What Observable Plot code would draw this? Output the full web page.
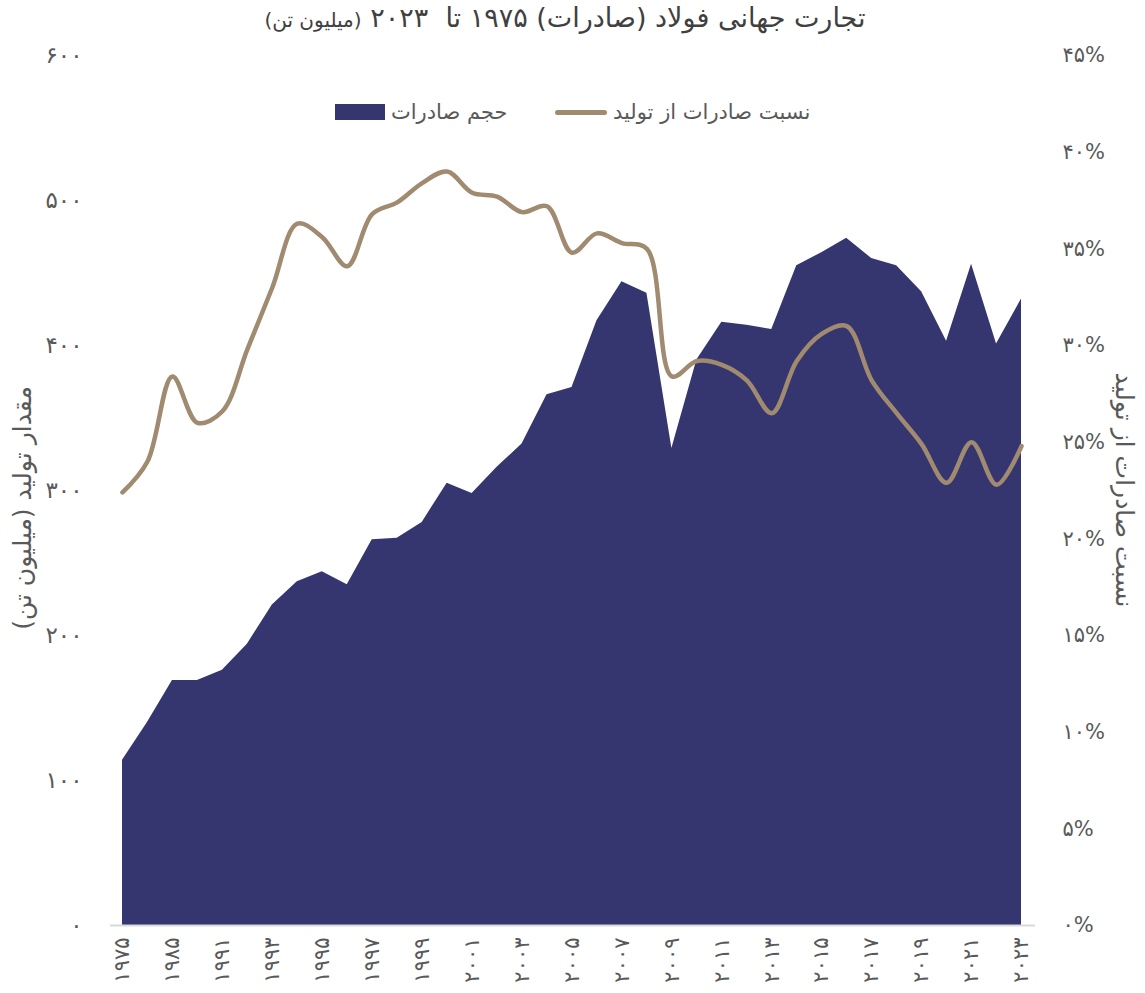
<!DOCTYPE html>
<html>
<head>
<meta charset="utf-8">
<script src="https://cdn.jsdelivr.net/npm/d3@7"></script>
<script src="https://cdn.jsdelivr.net/npm/@observablehq/plot@0.6"></script>
<style>
  html, body { margin: 0; padding: 0; background: #fff; }
  #wrap { position: relative; width: 1145px; height: 993px; font-family: "DejaVu Sans", "Noto Sans", sans-serif; color: #595959; }
  #wrap svg { position: absolute; left: 0; top: 0; }
  .abs { position: absolute; white-space: nowrap; direction: rtl; }
  #title { left: 0; width: 1130px; top: 2px; text-align: center; font-size: 27px; color: #404040; }
  #title small { font-size: 20px; }
  .vt { transform: translate(-50%, -50%) rotate(-90deg); font-size: 25px; color: #595959; }
  .vt2 { transform: translate(-50%, -50%) rotate(90deg); font-size: 25px; color: #595959; }
  .leg { font-size: 21px; color: #595959; top: 100px; display: flex; align-items: center; gap: 6px; }
  .sq { display: inline-block; width: 50px; height: 16px; background: #35356f; }
  .ln { display: inline-block; width: 52px; height: 5px; border-radius: 3px; background: #a08a70; }
</style>
</head>
<body>
<div id="wrap">
  <div id="chart"></div>
  <div id="title" class="abs">تجارت جهانی فولاد (صادرات) ۱۹۷۵ تا&nbsp; ۲۰۲۳ <small>(میلیون تن)</small></div>
  <div class="abs leg" style="left:555px;"><span>نسبت صادرات از تولید</span><span class="ln"></span></div>
  <div class="abs leg" style="left:335px;"><span>حجم صادرات</span><span class="sq"></span></div>
  <div class="abs vt" style="left:22px; top:508px;">مقدار تولید (میلیون تن)</div>
  <div class="abs vt2" style="left:1124px; top:490px;">نسبت صادرات از تولید</div>
</div>
<script>
const years = ["1975","1980","1985","1990","1991","1992","1993","1994","1995","1996","1997","1998","1999","2000","2001","2002","2003","2004","2005","2006","2007","2008","2009","2010","2011","2012","2013","2014","2015","2016","2017","2018","2019","2020","2021","2022","2023"];
const exportsVol = [114,140,169,169,176,194,221,237,244,235,266,267,278,305,298,316,332,366,371,417,444,436,329,390,416,414,411,455,464,474,460,455,437,403,456,401,432];
const exportRatio = [22.4,24.0,28.4,26.0,26.6,29.8,33.0,36.3,35.6,34.1,36.8,37.4,38.4,39.0,37.9,37.7,36.9,37.2,34.8,35.8,35.3,35.0,28.4,29.2,29.0,28.2,26.5,29.2,30.6,31.0,28.2,26.5,24.9,22.9,25.0,22.8,24.8];
const leftTicks = [0,100,200,300,400,500,600];
const rightTicks = [0,5,10,15,20,25,30,35,40,45];

const fa = n => String(n).replace(/\d/g, d => "۰۱۲۳۴۵۶۷۸۹"[d]);
const k = 600 / 45;
const data = years.map((y, i) => ({year: y, vol: exportsVol[i], ratio: exportRatio[i]}));
const labeledYears = years.filter((_, i) => i % 2 === 0);

const chart = Plot.plot({
  width: 1145,
  height: 993,
  marginTop: 55,
  marginBottom: 68,
  marginLeft: 122,
  marginRight: 124,
  x: {type: "point", domain: years, padding: 0},
  y: {domain: [0, 600]},
  style: {fontFamily: '"DejaVu Sans", "Noto Sans", sans-serif', fontSize: "22px", color: "#595959", background: "transparent"},
  marks: [
    Plot.areaY(data, {x: "year", y: "vol", fill: "#35356f", curve: "linear"}),
    Plot.ruleY([0], {stroke: "#d9d9d9", strokeWidth: 2, insetLeft: -12, insetRight: -14}),
    Plot.lineY(data, {x: "year", y: d => d.ratio * k, stroke: "#a08a70", strokeWidth: 4.5, curve: "catmull-rom", strokeLinecap: "round"}),
    Plot.axisY({anchor: "left", ticks: leftTicks, tickSize: 0, tickPadding: 40, tickFormat: fa, label: null, fill: "#595959", fontSize: 23}),
    Plot.axisY({anchor: "right", ticks: rightTicks.map(p => p * k), tickSize: 0, tickPadding: 41, tickFormat: v => fa(Math.round(v / k)) + "%", label: null, fill: "#595959", fontSize: 21}),
    Plot.axisX({anchor: "bottom", ticks: labeledYears, tickRotate: -90, tickSize: 0, tickPadding: 12, tickFormat: fa, label: null, fontSize: 21, fill: "#595959"})
  ]
});
document.getElementById("chart").appendChild(chart);
</script>
</body>
</html>
